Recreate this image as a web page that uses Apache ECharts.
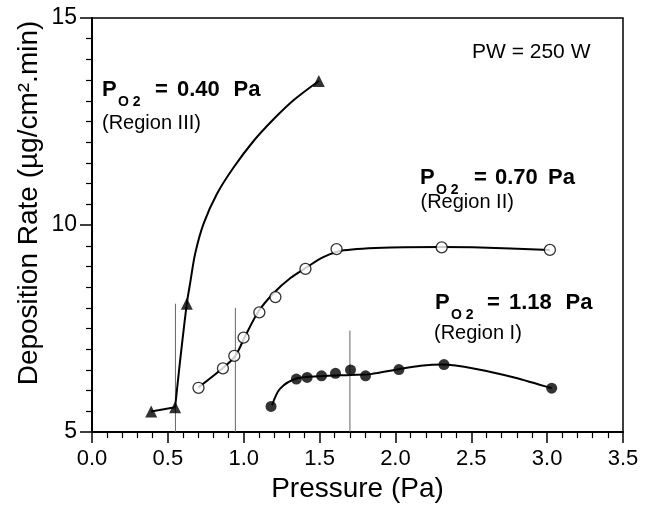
<!DOCTYPE html>
<html>
<head>
<meta charset="utf-8">
<script src="https://cdn.jsdelivr.net/npm/echarts@6/dist/echarts.min.js"></script>
<style>html,body{margin:0;padding:0;background:#fff}#c{width:652px;height:508px}</style>
</head>
<body>
<div id="c"></div>
<script>
// ---- data ----
const triPts = [[0.39,5.50],[0.548,5.60],[0.625,8.10],[1.495,13.48]];
const triFitLow = [[0.39,5.50],[0.548,5.60]];
const triFit = [[0.548,5.60],[0.577,6.60],[0.625,8.10],[0.647,8.60],[0.68,9.31],[0.735,10.03],[0.823,10.75],[0.933,11.39],[1.065,12.03],[1.198,12.56],[1.33,13.02],[1.495,13.48]];
const openPts = [[0.702,6.07],[0.863,6.54],[0.938,6.84],[0.999,7.28],[1.103,7.89],[1.209,8.26],[1.407,8.94],[1.612,9.42],[2.305,9.46],[3.018,9.40]];
const openFit = [[0.702,6.08],[0.867,6.56],[0.945,6.84],[1.01,7.32],[1.098,7.92],[1.198,8.36],[1.308,8.72],[1.407,8.96],[1.528,9.23],[1.66,9.39],[1.968,9.46],[2.30,9.47],[2.56,9.46],[3.018,9.40]];
const fillPts = [[1.18,5.62],[1.347,6.28],[1.418,6.32],[1.513,6.36],[1.605,6.42],[1.704,6.50],[1.803,6.36],[2.023,6.51],[2.32,6.63],[3.03,6.06]];
const fillFit = [[1.187,5.65],[1.24,6.05],[1.352,6.30],[1.506,6.35],[1.704,6.38],[1.836,6.40],[2.023,6.52],[2.166,6.60],[2.31,6.63],[2.54,6.52],[2.783,6.32],[3.03,6.06]];
const boundaryX = [0.55, 0.945, 1.70];
const boundaryTop = [8.10, 8.00, 7.45];
const xTicks = {min:0, max:3.5, step:0.5};
const yTicks = {min:5, max:15, step:5};

const FONT = '"Liberation Sans", Arial, Helvetica, sans-serif';

const series = [];
boundaryX.forEach((x,i)=>{
  series.push({type:'line', data:[[x,yTicks.min],[x,boundaryTop[i]]], showSymbol:false, silent:true,
    lineStyle:{color:'#666', width:1}, z:1});
});
const fitStyle = {color:'#000', width:2};
series.push({type:'line', data:triFitLow, showSymbol:false, lineStyle:fitStyle, z:2});
series.push({type:'line', data:triFit, smooth:0.3, showSymbol:false, lineStyle:fitStyle, z:2});
series.push({type:'line', data:openFit, smooth:0.3, showSymbol:false, lineStyle:fitStyle, z:2});
series.push({type:'line', data:fillFit, smooth:0.3, showSymbol:false, lineStyle:fitStyle, z:2});
series.push({type:'scatter', data:triPts, symbol:'triangle', symbolSize:12, itemStyle:{color:'#000'}, z:3});
series.push({type:'scatter', data:openPts, symbol:'circle', symbolSize:11, itemStyle:{color:'#fff', borderColor:'#000', borderWidth:1.3}, z:3});
series.push({type:'scatter', data:fillPts, symbol:'circle', symbolSize:11, itemStyle:{color:'#000'}, z:3});

function tx(x,y,s,size,bold){
  return {type:'text', x:x, y:y, style:{text:s, fontFamily:FONT, fontSize:size, fontWeight:bold?'bold':'normal', fill:'#000', align:'left', verticalAlign:'middle'}, z:10};
}

const graphics = [
  tx(472, 52, 'PW = 250 W', 21, false),
  tx(102, 89.5, 'P', 22, true), tx(118, 102, 'O 2', 14, true), tx(155, 89.5, '=', 22, true), tx(177, 89.5, '0.40', 22, true), tx(233.5, 89.5, 'Pa', 22, true),
  tx(102, 123, '(Region III)', 20, false),
  tx(420, 177.5, 'P', 22, true), tx(436, 190, 'O 2', 14, true), tx(474, 177.5, '=', 22, true), tx(495, 177.5, '0.70', 22, true), tx(548, 177.5, 'Pa', 22, true),
  tx(420.5, 202, '(Region II)', 20, false),
  tx(435, 302.5, 'P', 22, true), tx(451, 315, 'O 2', 14, true), tx(487, 302.5, '=', 22, true), tx(509, 302.5, '1.18', 22, true), tx(565.5, 302.5, 'Pa', 22, true),
  tx(434, 333, '(Region I)', 20, false),
  {type:'text', x:29, y:203, rotation:Math.PI/2, style:{text:'Deposition Rate (µg/cm².min)', fontFamily:FONT, fontSize:28, fill:'#000', align:'center', verticalAlign:'middle'}, z:10}
];

const chart = echarts.init(document.getElementById('c'), null, {renderer:'canvas'});
chart.setOption({
  animation:false,
  backgroundColor:'#fff',
  grid:{left:92, right:29, top:18, bottom:71, show:true, borderColor:'#000', borderWidth:1.5, backgroundColor:'transparent'},
  xAxis:{type:'value', min:xTicks.min, max:xTicks.max, interval:xTicks.step,
    name:'Pressure (Pa)', nameLocation:'middle', nameGap:39,
    nameTextStyle:{fontFamily:FONT, fontSize:28, color:'#000'},
    axisLine:{show:true, onZero:false, lineStyle:{color:'#000', width:2}},
    axisTick:{show:true, inside:false, length:11, lineStyle:{color:'#000', width:1.5}},
    minorTick:{show:true, splitNumber:5, length:6, lineStyle:{color:'#000', width:1.2}},
    axisLabel:{margin:16, fontFamily:FONT, fontSize:22, color:'#000', formatter:v=>v.toFixed(1), showMaxLabel:true, showMinLabel:true},
    splitLine:{show:false}},
  yAxis:{type:'value', min:yTicks.min, max:yTicks.max, interval:yTicks.step,
    axisLine:{show:true, onZero:false, lineStyle:{color:'#000', width:2}},
    axisTick:{show:true, inside:false, length:12, lineStyle:{color:'#000', width:1.5}},
    minorTick:{show:true, splitNumber:10, length:6, lineStyle:{color:'#000', width:1.2}},
    axisLabel:{margin:15, fontFamily:FONT, fontSize:23, color:'#000'},
    splitLine:{show:false}},
  series:series,
  graphic:graphics
});
</script>
</body>
</html>
